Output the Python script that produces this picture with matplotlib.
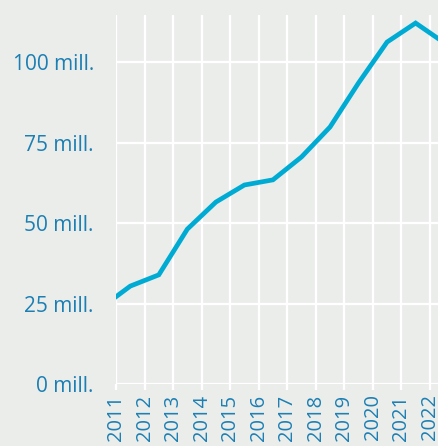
import numpy as np
import matplotlib.pyplot as plt

# data (points sit at mid-year)
years = [2010, 2011, 2012, 2013, 2014, 2015, 2016, 2017, 2018, 2019, 2020, 2021, 2022]
values = [23.8, 30.4, 33.9, 48.1, 56.5, 61.8, 63.4, 70.5, 79.8, 93.5, 106.2, 112.1, 106.0]
tick_years = list(range(2011, 2023))
y_ticks = [0, 25, 50, 75, 100]
y_labels = ['0 mill.', '25 mill.', '50 mill.', '75 mill.', '100 mill.']

bg = '#ebedeb'
line_col = '#00abd3'
text_col = '#1c7fb3'

plt.rcParams['font.family'] = ['Open Sans', 'DejaVu Sans']

fig = plt.figure(figsize=(4.39, 4.46), dpi=100, facecolor=bg)
ax = fig.add_axes([116 / 439, (446 - 384) / 446, 1 - 116 / 439, (384 - 15) / 446])
ax.set_facecolor(bg)

x = np.array(years) + 0.5
ax.plot(x, values, color=line_col, lw=3.4, solid_joinstyle='miter', zorder=3)

ax.set_xlim(2011, 2022.32)
ax.set_ylim(0, 114.6)

ax.set_xticks(tick_years)
ax.set_xticklabels([str(y) for y in tick_years], rotation=90, va='top')
ax.set_yticks(y_ticks)
ax.set_yticklabels(y_labels)

ax.grid(True, color='white', lw=1.6)
ax.set_axisbelow(True)
for s in ax.spines.values():
    s.set_visible(False)

ax.tick_params(axis='x', colors='white', length=4.5, width=1.6, pad=3,
               labelcolor=text_col, labelsize=14.5)
ax.tick_params(axis='y', length=0, pad=16, labelcolor=text_col, labelsize=15)

fig.savefig('out.png', dpi=100, facecolor=bg)
